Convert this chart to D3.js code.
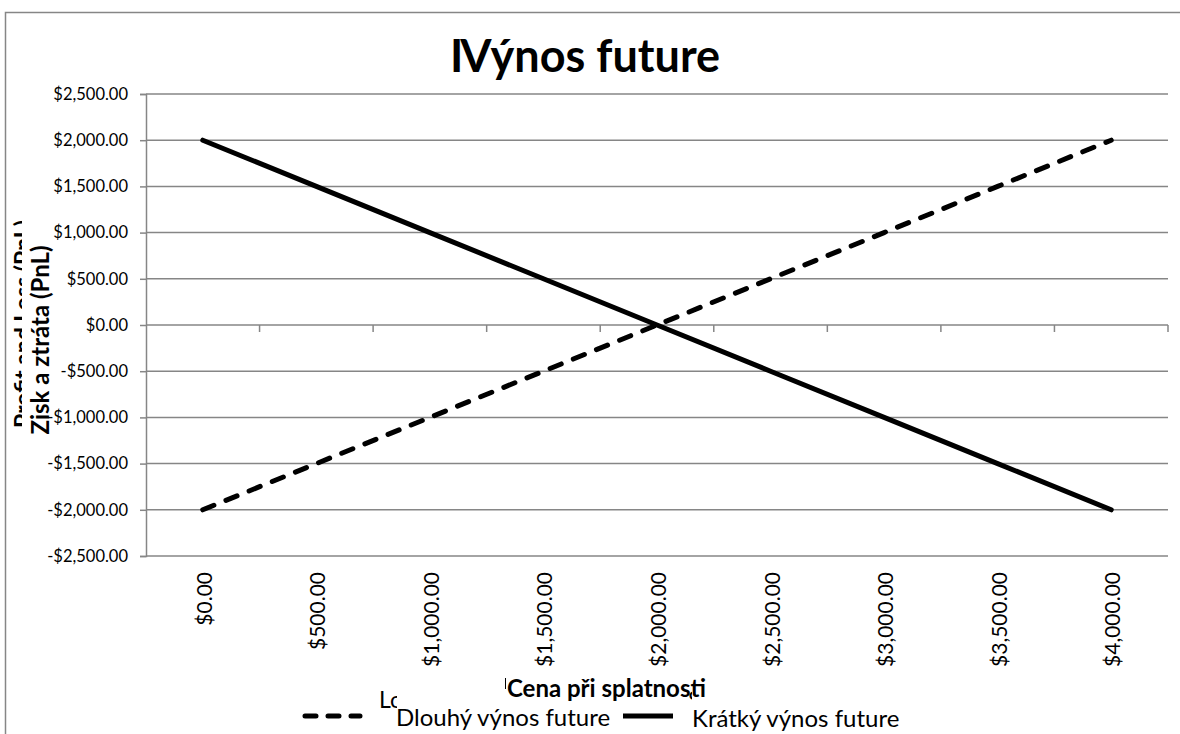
<!DOCTYPE html>
<html>
<head>
<meta charset="utf-8">
<script src="https://cdn.jsdelivr.net/npm/d3@7"></script>
<style>
  body { margin: 0; background: #fff; }
  svg { font-family: Lato, "Open Sans", sans-serif; }
  .ytick text { font-family: Lato, "Open Sans", sans-serif; font-size: 16.5px; fill: #000; }
  .xtick text { font-family: Lato, "Open Sans", sans-serif; font-size: 21px; fill: #000; }
</style>
</head>
<body>
<svg id="chart" width="1180" height="734"></svg>
<script>
// prices at maturity (categories)
let prices = [0, 500, 1000, 1500, 2000, 2500, 3000, 3500, 4000];
// payoff series
let longPayoff = [-2000, -1500, -1000, -500, 0, 500, 1000, 1500, 2000];
let shortPayoff = [2000, 1500, 1000, 500, 0, -500, -1000, -1500, -2000];
let yTicks = [-2500, -2000, -1500, -1000, -500, 0, 500, 1000, 1500, 2000, 2500];

let seriesNames = ['Dlouhý výnos future', 'Krátký výnos future'];

let svg = d3.select('#chart');
let gridColor = '#868686';

let plotLeft = 146, plotRight = 1168, plotTop = 94, plotBottom = 556;

let money = v => d3.format('$,.2f')(v).replace('\u2212', '-');

let x = d3.scaleBand()
      .domain(prices)
      .range([plotLeft, plotRight]);

let y = d3.scaleLinear()
      .domain([-2500, 2500])
      .range([plotBottom, plotTop]);

// clip regions for the leftover fragments of the older labels
let defs = svg.append('defs');
defs.append('clipPath').attr('id', 'clipL')
    .append('rect').attr('x', 370).attr('y', 680).attr('width', 27).attr('height', 40);
defs.append('clipPath').attr('id', 'clipS')
    .append('rect').attr('x', 684).attr('y', 686).attr('width', 8).attr('height', 16);
defs.append('clipPath').attr('id', 'clipY')
    .append('rect').attr('x', 0).attr('y', 150).attr('width', 22).attr('height', 350);

// outer chart border
svg.append('path')
    .attr('d', 'M5.5,740 V12.5 H1190')
    .attr('fill', 'none')
    .attr('stroke', gridColor)
    .attr('stroke-width', 1.5);

// horizontal gridlines
svg.append('g')
    .selectAll('line')
    .data(yTicks)
    .enter()
    .append('line')
    .attr('x1', plotLeft)
    .attr('x2', plotRight)
    .attr('y1', d => y(d))
    .attr('y2', d => y(d))
    .attr('stroke', gridColor)
    .attr('stroke-width', 1.5);

// y axis
let yAxis = svg.append('g')
    .attr('class', 'ytick')
    .attr('transform', `translate(${plotLeft},0)`)
    .call(d3.axisLeft(y).tickValues(yTicks).tickFormat(money).tickSize(6).tickPadding(12));
yAxis.select('.domain').attr('stroke', gridColor).attr('stroke-width', 1.5);
yAxis.selectAll('.tick line').attr('stroke', gridColor).attr('stroke-width', 1.5);

// x axis line sits on zero, with tick marks at category boundaries
let bounds = prices.map(p => x(p)).concat([plotRight]).slice(1);
svg.append('g')
    .selectAll('line')
    .data(bounds)
    .enter()
    .append('line')
    .attr('x1', d => d)
    .attr('x2', d => d)
    .attr('y1', y(0))
    .attr('y2', y(0) + 7)
    .attr('stroke', gridColor)
    .attr('stroke-width', 1.5);

// x tick labels, rotated, below the plot
svg.append('g')
    .attr('class', 'xtick')
    .selectAll('text')
    .data(prices)
    .enter()
    .append('text')
    .attr('transform', d => `translate(${x(d) + x.bandwidth() / 2 + 9},572) rotate(-90)`)
    .attr('text-anchor', 'end')
    .text(d => money(d));

// series lines
let line = d3.line()
    .x((d, i) => x(prices[i]) + x.bandwidth() / 2)
    .y(d => y(d));

svg.append('path')
    .datum(shortPayoff)
    .attr('d', line)
    .attr('fill', 'none')
    .attr('stroke', '#000')
    .attr('stroke-width', 5)
    .attr('stroke-linecap', 'round');

svg.append('path')
    .datum(longPayoff)
    .attr('d', line)
    .attr('fill', 'none')
    .attr('stroke', '#000')
    .attr('stroke-width', 5)
    .attr('stroke-linecap', 'round')
    .attr('stroke-dasharray', '12,13');

// title
let title = svg.append('text')
    .attr('x', 450)
    .attr('y', 72)
    .attr('font-size', 45)
    .attr('font-weight', 'bold');
title.append('tspan').text('I');
title.append('tspan').attr('dx', -3).text('Výnos future');

// y axis title, with the older label showing behind it
svg.append('g')
    .attr('clip-path', 'url(#clipY)')
    .append('text')
    .attr('transform', 'translate(31,324) rotate(-90)')
    .attr('text-anchor', 'middle')
    .attr('font-size', 23)
    .attr('font-weight', 'bold')
    .text('Profit and Loss (PnL)');
svg.append('text')
    .attr('transform', 'translate(49,340) rotate(-90)')
    .attr('text-anchor', 'middle')
    .attr('font-size', 24)
    .attr('font-weight', 'bold')
    .text('Zisk a ztráta (PnL)');

// legend, older names peeking out beside the new ones
let legend = svg.append('g');
legend.append('line')
    .attr('x1', 305).attr('x2', 360)
    .attr('y1', 716).attr('y2', 716)
    .attr('stroke', '#000').attr('stroke-width', 5)
    .attr('stroke-linecap', 'round')
    .attr('stroke-dasharray', '11,12');
legend.append('line')
    .attr('x1', 623).attr('x2', 673)
    .attr('y1', 716).attr('y2', 716)
    .attr('stroke', '#000').attr('stroke-width', 5);
legend.append('g')
    .attr('clip-path', 'url(#clipL)')
    .append('text')
    .attr('x', 379).attr('y', 708)
    .attr('font-size', 23)
    .text('Lo');
legend.append('g')
    .attr('clip-path', 'url(#clipS)')
    .append('text')
    .attr('x', 688).attr('y', 708)
    .attr('font-size', 23)
    .text('S');
legend.append('text')
    .attr('x', 396).attr('y', 726)
    .attr('font-size', 24)
    .text(seriesNames[0]);
legend.append('text')
    .attr('x', 692).attr('y', 727)
    .attr('font-size', 24)
    .text(seriesNames[1]);

// x axis title
svg.append('line')
    .attr('x1', 505.5).attr('x2', 505.5)
    .attr('y1', 678).attr('y2', 689)
    .attr('stroke', '#000').attr('stroke-width', 1);
svg.append('text')
    .attr('x', 507)
    .attr('y', 697)
    .attr('font-size', 24)
    .attr('font-weight', 'bold')
    .text('Cena při splatnosti');
</script>
</body>
</html>
